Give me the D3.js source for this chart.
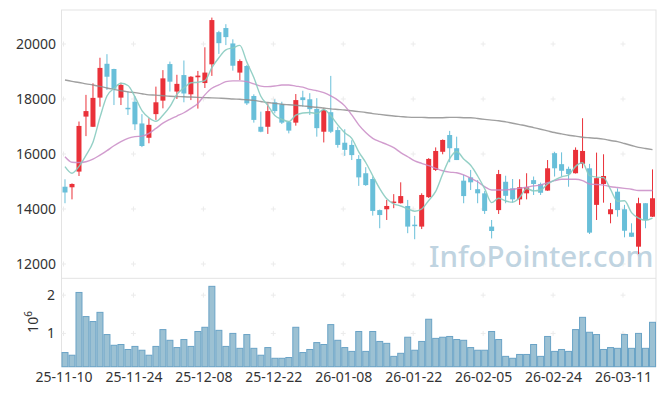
<!DOCTYPE html>
<html>
<head>
<meta charset="utf-8">
<script src="https://cdn.jsdelivr.net/npm/d3@7"></script>
<style>
  body { margin: 0; background: #fff; }
  svg { display: block; font-family: "Noto Sans", sans-serif; }
</style>
</head>
<body>
<svg></svg>
<script>
// trading days, yy-mm-dd
const dates = [
  "25-11-10","25-11-11","25-11-12","25-11-13","25-11-14","25-11-17","25-11-18","25-11-19","25-11-20","25-11-21",
  "25-11-24","25-11-25","25-11-26","25-11-27","25-11-28","25-12-01","25-12-02","25-12-03","25-12-04","25-12-05",
  "25-12-08","25-12-09","25-12-10","25-12-11","25-12-12","25-12-15","25-12-16","25-12-17","25-12-18","25-12-19",
  "25-12-22","25-12-23","25-12-24","25-12-26","25-12-29","25-12-30","26-01-02","26-01-05","26-01-06","26-01-07",
  "26-01-08","26-01-09","26-01-12","26-01-13","26-01-14","26-01-15","26-01-16","26-01-19","26-01-20","26-01-21",
  "26-01-22","26-01-23","26-01-26","26-01-27","26-01-28","26-01-29","26-01-30","26-02-02","26-02-03","26-02-04",
  "26-02-05","26-02-06","26-02-09","26-02-10","26-02-11","26-02-12","26-02-13","26-02-19","26-02-20","26-02-23",
  "26-02-24","26-02-25","26-02-26","26-02-27","26-03-03","26-03-04","26-03-05","26-03-06","26-03-09","26-03-10",
  "26-03-11","26-03-12","26-03-13","26-03-16","26-03-17"
]

const open = [
  14810,14790,15360,17360,16990,18050,19280,19090,18050,17680,
  17900,17110,16590,17450,17940,19270,18270,18870,18170,18790,
  18580,19260,20430,20580,20020,18960,19200,18110,16990,16990,
  17880,17810,17160,17140,18060,17990,17640,16810,17520,16870,
  16410,16330,15820,15300,15090,13960,13990,14250,14210,14110,
  13430,13360,14430,15420,16080,16690,16210,15030,15150,14720,
  14570,13360,13960,14990,14750,14350,14570,15050,14910,14670,
  16030,15630,15460,15300,15640,15480,14150,14910,13810,14630,
  13990,13140,12630,14210,13720
]
const high = [
  15080,14930,17180,18150,18570,19500,19630,19100,18590,18270,
  18100,17450,17300,18450,19050,19360,18880,19400,18830,19020,
  19880,20960,20480,20720,20170,19440,19240,18170,17540,17840,
  17990,17900,17200,18180,18300,18210,18030,17660,18840,16990,
  16900,16500,15960,15520,15180,13980,14330,14540,14970,14330,
  13750,14570,15850,16240,16530,16840,16630,15240,15420,15050,
  14650,13600,15420,15210,15090,15080,15300,15180,14960,15780,
  16080,16060,15540,16240,17300,15640,16050,15990,14220,14750,
  14150,13480,14410,14210,15440
]
const low = [
  14210,14350,15200,16650,16980,17720,18330,17780,17780,17420,
  16870,16250,16390,17240,17660,18270,18000,17880,17960,17650,
  18400,18840,19640,19960,19030,18690,17780,17140,16790,16730,
  17480,17090,16750,17030,17720,17420,16630,16420,16760,16230,
  15930,15780,14840,14840,13760,13300,13600,14030,14200,13120,
  12900,13270,14400,15380,15990,15700,15780,14210,14690,14210,
  13820,12930,13820,14210,14230,14150,14350,14510,14510,14660,
  15180,15180,14810,15290,15480,13090,13600,14230,13480,13720,
  12970,12980,12360,13300,13710
]
const close = [
  14600,14910,17020,17560,18040,19130,18810,18370,18510,17640,
  17080,16290,17060,17880,18750,18630,18550,18200,18810,18850,
  18960,20870,20030,20250,19210,19380,17840,17240,16810,17560,
  17560,17140,16850,17960,17960,17630,16940,17600,16810,16330,
  16150,15960,15150,14870,13930,13780,14110,14270,14470,13360,
  13410,14510,15820,16110,16510,16210,15780,14470,14970,14570,
  13930,13200,15270,14480,14350,14790,14790,14910,14590,15480,
  15480,15390,15270,16150,16110,13140,15120,15200,13990,13960,
  13210,12990,14210,13600,14390
]

// volume, x10^6
const volume = [
  0.50,0.43,2.07,1.44,1.31,1.55,0.97,0.69,0.71,0.58,
  0.66,0.56,0.43,0.66,1.10,0.82,0.63,0.84,0.66,1.05,
  1.16,2.23,1.08,0.66,1.00,0.61,0.97,0.61,0.43,0.63,
  0.35,0.35,0.37,1.16,0.50,0.58,0.76,0.71,1.23,0.82,
  0.63,0.53,1.05,0.53,1.05,0.79,0.74,0.40,0.48,0.90,
  0.56,0.79,1.37,0.87,0.90,0.92,0.84,0.82,0.63,0.56,
  0.56,1.05,0.84,0.40,0.35,0.45,0.45,0.71,0.40,0.92,
  0.53,0.58,0.53,1.10,1.42,1.03,0.97,0.58,0.63,0.61,
  0.97,0.61,1.00,0.61,1.29
]

const ma5 = [
  15540,15300,15550,15950,16430,17330,18110,18380,18570,18490,
  18080,17580,17320,17190,17410,17720,18170,18400,18590,18610,
  18670,19140,19500,19790,19860,19950,19340,18780,18100,17770,
  17400,17260,17180,17410,17490,17510,17470,17620,17390,17060,
  16770,16570,16080,15690,15210,14740,14370,14190,14110,14000,
  13920,14000,14310,14640,15270,15830,16090,15820,15590,15200,
  14740,14230,14390,14290,14250,14420,14740,14660,14690,14910,
  15050,15170,15240,15550,15680,15210,15160,15140,14710,14280,
  14300,13870,13670,13590,13670
]
const ma20 = [
  15900,15700,15690,15720,15810,15960,16120,16300,16450,16570,
  16630,16650,16750,16930,17120,17260,17380,17500,17660,17840,
  18150,18390,18510,18630,18660,18660,18630,18550,18470,18450,
  18470,18510,18510,18470,18430,18350,18300,18230,18110,17960,
  17750,17420,17060,16780,16570,16450,16350,16230,16050,15900,
  15750,15660,15580,15480,15390,15340,15320,15240,15120,14990,
  14810,14690,14690,14690,14720,14750,14790,14840,14870,14960,
  15030,15080,15080,15080,15030,14910,14890,14870,14810,14780,
  14750,14720,14670,14670,14670
]
const ma120 = [
  18690,18640,18600,18550,18510,18460,18400,18350,18300,18260,
  18230,18190,18150,18140,18120,18100,18090,18080,18070,18060,
  18050,18040,18030,18020,18000,17990,17970,17950,17910,17870,
  17840,17810,17790,17770,17750,17720,17700,17670,17640,17620,
  17600,17570,17540,17510,17470,17440,17410,17380,17360,17340,
  17330,17330,17320,17320,17320,17330,17330,17320,17320,17290,
  17260,17230,17210,17170,17120,17070,17020,16960,16900,16840,
  16780,16730,16680,16650,16610,16590,16570,16540,16490,16450,
  16380,16310,16240,16200,16160
]

const priceTicks = [12000, 14000, 16000, 18000, 20000]
const volumeTicks = [1, 2]
const tickEvery = 10

const width = 665
const height = 396
const plotLeft = 61.5, plotRight = 656
const plotTop = 10, plotMid = 278.3, plotBottom = 366.7

const upColor = "#ea3139"
const downColor = "#69bfd9"

const svg = d3.select("svg")
  .attr("width", width)
  .attr("height", height)

const x = d3.scaleBand()
  .domain(dates)
  .range([plotLeft, plotRight])
  .padding(0)
const bw = x.bandwidth()
const cx = d => x(d) + bw / 2

const y = d3.scaleLinear().domain([11480, 21236]).range([plotMid, plotTop])
const yv = d3.scaleLinear().domain([0.13, 2.44]).range([plotBottom, plotMid])

const tickDates = dates.filter((d, i) => i % tickEvery === 0)

// frame
svg.append("rect")
  .attr("x", plotLeft).attr("y", plotTop)
  .attr("width", plotRight - plotLeft).attr("height", plotBottom - plotTop)
  .attr("fill", "none").attr("stroke", "#e3e3e3")
svg.append("line")
  .attr("x1", plotLeft).attr("x2", plotRight)
  .attr("y1", plotMid).attr("y2", plotMid)
  .attr("stroke", "#e3e3e3")

// little crosses at grid points
const crosses = []
tickDates.forEach(d => {
  priceTicks.forEach(p => crosses.push([cx(d) - 1.5, y(p)]))
  volumeTicks.forEach(v => crosses.push([cx(d) - 1.5, yv(v)]))
})
const cg = svg.append("g").attr("stroke", "#ebebeb")
cg.selectAll("path")
  .data(crosses)
  .enter().append("path")
    .attr("d", c => `M${c[0] - 2.5},${c[1]}h5M${c[0]},${c[1] - 2.5}v5`)

// watermark
svg.append("text")
  .attr("x", 429)
  .attr("y", 267)
  .attr("font-size", 29.5)
  .attr("font-weight", 500)
  .attr("fill", "#c0d4e1")
  .text("InfoPointer.com")

// candles
const candles = svg.append("g")
  .selectAll("g")
  .data(dates)
  .enter().append("g")
    .attr("fill", (d, i) => close[i] >= open[i] ? upColor : downColor)
    .attr("stroke", (d, i) => close[i] >= open[i] ? upColor : downColor)

candles.append("line")
  .attr("x1", d => cx(d)).attr("x2", d => cx(d))
  .attr("y1", (d, i) => y(high[i]))
  .attr("y2", (d, i) => y(low[i]))
  .attr("stroke-width", 1)

candles.append("rect")
  .attr("x", d => cx(d) - 2.5)
  .attr("width", 5)
  .attr("y", (d, i) => y(Math.max(open[i], close[i])))
  .attr("height", (d, i) => Math.max(1.5, Math.abs(y(open[i]) - y(close[i]))))
  .attr("stroke", "none")

// moving averages
const maLine = arr => d3.line()
  .x((d, i) => cx(dates[i]))
  .y(d => y(d))
  .curve(d3.curveMonotoneX)(arr)

svg.append("path").attr("d", maLine(ma120))
  .attr("fill", "none").attr("stroke", "#8f8f8f").attr("stroke-width", 1.4).attr("opacity", 0.85)
svg.append("path").attr("d", maLine(ma20))
  .attr("fill", "none").attr("stroke", "#c98bc6").attr("stroke-width", 1.4).attr("opacity", 0.85)
svg.append("path").attr("d", maLine(ma5))
  .attr("fill", "none").attr("stroke", "#88cbc0").attr("stroke-width", 1.4).attr("opacity", 0.9)

// volume bars
svg.append("g")
  .selectAll("rect")
  .data(dates)
  .enter().append("rect")
    .attr("x", d => x(d) + 0.5)
    .attr("width", bw - 1)
    .attr("y", (d, i) => yv(volume[i]))
    .attr("height", (d, i) => plotBottom - yv(volume[i]))
    .attr("fill", "#9cc1d3")
    .attr("stroke", "#6aa3c6")
    .attr("stroke-width", 1)

// axes text
const axisText = "#333"

svg.append("g")
  .selectAll("text")
  .data(priceTicks)
  .enter().append("text")
    .attr("x", 56)
    .attr("y", p => y(p) + 5)
    .attr("text-anchor", "end")
    .attr("font-size", 14)
    .attr("fill", axisText)
    .text(p => p)

svg.append("g")
  .selectAll("text")
  .data(volumeTicks)
  .enter().append("text")
    .attr("x", 55)
    .attr("y", v => yv(v) + 5)
    .attr("text-anchor", "end")
    .attr("font-size", 14)
    .attr("fill", axisText)
    .text(v => v)

const unit = svg.append("text")
  .attr("transform", "translate(38,322) rotate(-90)")
  .attr("text-anchor", "middle")
  .attr("font-size", 14)
  .attr("fill", axisText)
unit.append("tspan").text("10")
unit.append("tspan").attr("font-size", 10).attr("dy", -6).text("6")

svg.append("g")
  .selectAll("text")
  .data(tickDates)
  .enter().append("text")
    .attr("x", d => cx(d) - 1)
    .attr("y", 382)
    .attr("text-anchor", "middle")
    .attr("font-size", 14)
    .attr("fill", axisText)
    .text(d => d)
</script>
</body>
</html>
